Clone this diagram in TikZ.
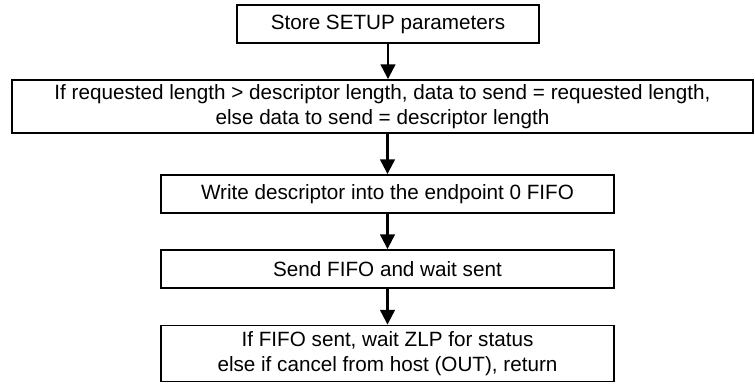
\documentclass[tikz,border=0pt]{standalone}
\usepackage{fontspec}
\setmainfont{Liberation Sans}
\usetikzlibrary{arrows.meta}
\begin{document}
\begin{tikzpicture}[x=0.75pt,y=-0.75pt,
  boxst/.style={draw, line width=1.4pt, rectangle, inner sep=0pt, align=center,
    font=\fontsize{15.5}{18.5}\selectfont},
  arr/.style={line width=1.6pt, -{Triangle[width=11pt,length=11pt]}}]
\useasboundingbox (0,0) rectangle (755,383);
\node[boxst, minimum width=302*0.75pt, minimum height=38*0.75pt] (b1) at (388,24) {Store SETUP parameters};
\node[boxst, minimum width=741*0.75pt, minimum height=53*0.75pt] (b2) at (382.5,106.5) {If requested length > descriptor length, data to send = requested length,\\ else data to send = descriptor length};
\node[boxst, minimum width=453*0.75pt, minimum height=38*0.75pt] (b3) at (387.5,194) {Write descriptor into the endpoint 0 FIFO};
\node[boxst, minimum width=453*0.75pt, minimum height=38*0.75pt] (b4) at (387.5,269) {Send FIFO and wait sent};
\node[boxst, minimum width=453*0.75pt, minimum height=56*0.75pt] (b5) at (387.5,353.5) {If FIFO sent, wait ZLP for status\\ else if cancel from host (OUT), return};
\draw[arr] (b1.south) -- (b1.south |- b2.north);
\draw[arr] (b3.north |- b2.south) -- (b3.north);
\draw[arr] (b3.south) -- (b4.north);
\draw[arr] (b4.south) -- (b5.north);
\end{tikzpicture}
\end{document}
